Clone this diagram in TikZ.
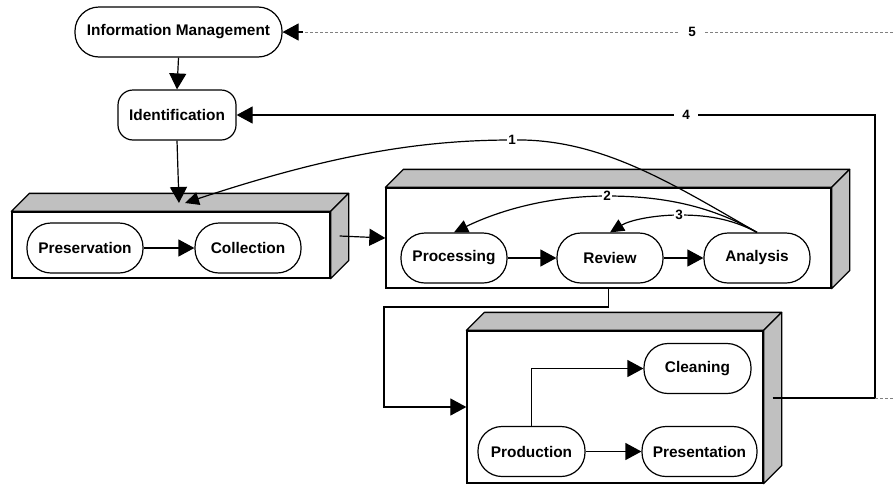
\documentclass[tikz,border=0pt]{standalone}
\usepackage{fontspec}
\setmainfont{Liberation Sans}
\usetikzlibrary{arrows.meta,calc}
\definecolor{facegray}{RGB}{192,192,192}
\begin{document}
\begin{tikzpicture}[x=1pt,y=-1pt,
  every node/.style={font=\bfseries\fontsize{15.4}{18}\selectfont},
  stadium/.style={draw,line width=1.2pt,fill=white,rounded corners=24pt,minimum height=50pt,inner sep=0pt},
  frontface/.style={draw,line width=1.3pt,fill=white,inner sep=0pt},
  sideface/.style={draw,line width=1.3pt,fill=facegray,line join=round},
  arr/.style={line width=1.2pt,-{Triangle[length=16pt,width=17pt]}},
  carr/.style={line width=1.2pt,-{Triangle[length=14pt,width=13pt]}},
  dline/.style={line width=0.7pt,draw=gray,dash pattern=on 3pt off 2pt},
  lab/.style={fill=white,inner xsep=1pt,inner ysep=0pt,font=\bfseries\fontsize{13.5}{15}\selectfont},
  wlab/.style={fill=white,inner xsep=8pt,inner ysep=0pt,font=\bfseries\fontsize{13.5}{15}\selectfont}]
\useasboundingbox (0,0) rectangle (893,485);

% boxes (front faces)
\node[frontface,minimum width=318pt,minimum height=66pt] (b1) at (171,245) {};
\node[frontface,minimum width=445pt,minimum height=100pt] (b2) at (608.5,238) {};
\node[frontface,minimum width=296pt,minimum height=152pt] (b3) at (615,407) {};
\foreach \b in {b1,b2,b3}{
  \draw[sideface] (\b.north west) -- ++(18,-18) -- ($(\b.north east)+(18,-18)$) -- (\b.north east) -- cycle;
  \draw[sideface] (\b.north east) -- ++(18,-18) -- ($(\b.south east)+(18,-18)$) -- (\b.south east) -- cycle;
  \coordinate (\b r) at ($(\b.east)+(9,-9)$);
}

% process nodes
\node[stadium,minimum width=207pt] (im) at (178.5,32) {Information Management};
\node[stadium,rounded corners=15pt,minimum width=118pt] (ident) at (177,115) {Identification};
\node[stadium,minimum width=116pt] (pres) at (85,248) {Preservation};
\node[stadium,minimum width=106pt] (coll) at (248,248) {Collection};
\node[stadium,minimum width=106pt] (proc) at (454,258) {Processing};
\node[stadium,minimum width=106pt] (rev) at (610,258) {Review};
\node[stadium,minimum width=106pt] (ana) at (757,258) {Analysis};
\node[stadium,minimum width=107pt] (clean) at (697.5,368.5) {Cleaning};
\node[stadium,minimum width=107pt] (prod) at (531.5,451.5) {Production};
\node[stadium,minimum width=115pt] (prest) at (699.5,451.5) {Presentation};

\coordinate (t1) at (179,203);
\coordinate (t1b) at (185,203);
\coordinate (c4) at (875,398);
\coordinate (e5) at (893,32);
\coordinate (e4) at (893,398);
\coordinate (rv1) at (608.5,307);
\coordinate (rv2) at (384,307);

% connectors
\draw[arr] (im.south) -- (ident.north);
\draw[arr] (ident.south) -- (t1);
\draw[arr] (pres) -- (coll);
\draw[arr] (b1r) -- (b2.west);
\draw[arr] (proc) -- (rev);
\draw[arr] (rev) -- (ana);
\draw[arr] (b2.south) -- (rv1) -- (rv2) |- (b3.west);
\draw[arr] (prod.north) |- (clean.west);
\draw[arr] (prod) -- (prest);

\draw[carr] (ana.north) .. controls (671,183) and (600,138) .. (512,140)
   node[lab] (l1) {1}
   .. controls (420,140) and (330,155) .. (t1b);
\draw[carr] (ana.north) .. controls (710,205) and (660,196) .. (607,196)
   node[lab] (l2) {2}
   .. controls (550,196) and (500,210) .. (proc.north);
\draw[carr] (ana.north) .. controls (730,218) and (705,215) .. (679,215)
   node[lab] (l3) {3}
   .. controls (655,215) and (630,220) .. (rev.north);

\draw[arr] (b3r) -- (c4) -- (c4 |- ident.east) -- node[wlab,pos=0.296] (l4) {4} (ident.east);
\draw[dline] (c4) -- (e4);
\draw[dline] (e5) -- node[wlab,pos=0.329,text=black] (l5) {5} (im.east);
\draw[line width=1.2pt,-{Triangle[length=16pt,width=17pt]}] ($(im.east)+(20,0)$) -- (im.east);
\end{tikzpicture}
\end{document}
